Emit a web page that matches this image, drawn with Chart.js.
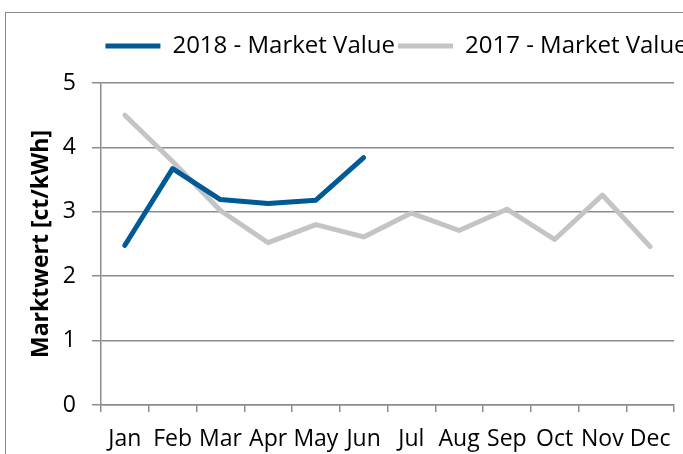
<!DOCTYPE html>
<html>
<head>
<meta charset="utf-8">
<script src="https://cdn.jsdelivr.net/npm/chart.js@4/dist/chart.umd.min.js"></script>
<style>
  html, body { margin: 0; padding: 0; background: #fff; overflow: hidden; }
  #wrap { position: absolute; left: 0; top: 0; width: 793px; height: 454px; }
  #frame { position: absolute; left: 5px; top: 12px; width: 900px; height: 600px;
           border: 1.5px solid #8c8c8c; pointer-events: none; }
</style>
</head>
<body>
<div id="wrap"><canvas id="myChart" width="793" height="454"></canvas></div>
<div id="frame"></div>
<script>
let months = ['Jan', 'Feb', 'Mar', 'Apr', 'May', 'Jun', 'Jul', 'Aug', 'Sep', 'Oct', 'Nov', 'Dec']
let values2018 = [2.48, 3.67, 3.19, 3.13, 3.18, 3.84]
let values2017 = [4.50, 3.78, 3.02, 2.52, 2.80, 2.61, 2.98, 2.71, 3.04, 2.57, 3.26, 2.46]
let yTicks = [0, 1, 2, 3, 4, 5]

let gridGray = '#8c8c8c'
Chart.defaults.font.family = "'Open Sans', sans-serif"
Chart.defaults.color = '#000'

let ctx = document.getElementById('myChart').getContext('2d')
new Chart(ctx, {
    type: 'line',
    data: {
        labels: months,
        datasets: [{
            label: '2018 - Market Value',
            data: values2018,
            borderColor: '#005a96',
            backgroundColor: '#005a96',
            borderWidth: 5,
            borderCapStyle: 'round',
            borderJoinStyle: 'round',
            pointRadius: 0,
            pointStyle: 'line',
            tension: 0
        }, {
            label: '2017 - Market Value',
            data: values2017,
            borderColor: '#c4c4c4',
            backgroundColor: '#c4c4c4',
            borderWidth: 5,
            borderCapStyle: 'round',
            borderJoinStyle: 'round',
            pointRadius: 0,
            pointStyle: 'line',
            tension: 0
        }]
    },
    options: {
        responsive: false,
        animation: false,
        layout: { padding: { top: 31, left: 0, right: 0, bottom: 0 } },
        plugins: {
            legend: {
                position: 'top',
                weight: 3000,
                labels: {
                    usePointStyle: true,
                    pointStyleWidth: 55,
                    padding: 3,
                    font: { size: 24 }
                }
            },
            // empty subtitle used as a gap between legend and plot
            subtitle: {
                display: true,
                text: ' ',
                padding: 0,
                font: { size: 10, lineHeight: 1.5 }
            },
            tooltip: { enabled: false }
        },
        scales: {
            x: {
                offset: true,
                afterFit: s => { s.height = 49 },
                grid: {
                    offset: true,
                    drawOnChartArea: false,
                    drawTicks: true,
                    tickLength: 7,
                    color: gridGray,
                    lineWidth: 1.5
                },
                border: { display: true, color: gridGray, width: 1.5 },
                ticks: { font: { size: 23 }, padding: 14, maxRotation: 0, autoSkip: false }
            },
            y: {
                min: yTicks[0],
                max: yTicks[yTicks.length - 1],
                afterBuildTicks: s => { s.ticks = yTicks.map(v => ({ value: v })) },
                afterFit: s => { s.width = 101 },
                grid: { color: gridGray, lineWidth: 1.5, tickLength: 9 },
                border: { display: true, color: gridGray, width: 1.5 },
                ticks: { font: { size: 23 }, padding: 16 },
                title: {
                    display: true,
                    text: 'Marktwert [ct/kWh]',
                    font: { size: 23, weight: 'bold' },
                    padding: { top: 28, bottom: 0 }
                }
            },
            // invisible right axis, only keeps the plot from running under the wide legend
            yRight: {
                position: 'right',
                display: true,
                grid: { display: false },
                border: { display: false },
                ticks: { display: false },
                afterFit: s => { s.width = 119 }
            }
        }
    }
})
</script>
</body>
</html>
